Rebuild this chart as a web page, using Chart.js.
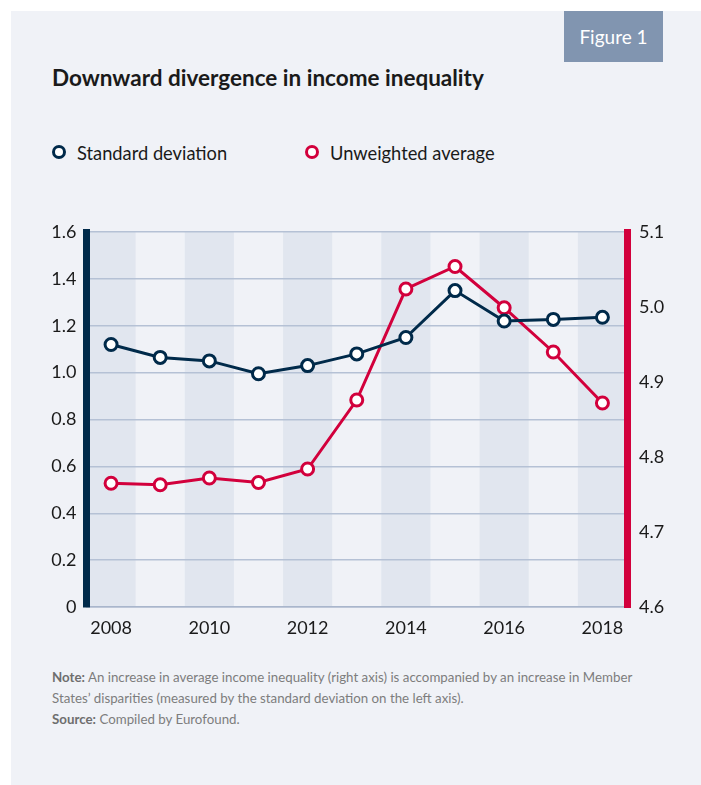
<!DOCTYPE html>
<html>
<head>
<meta charset="utf-8">
<title>Downward divergence in income inequality</title>
<script src="https://cdn.jsdelivr.net/npm/chart.js"></script>
<style>
  html, body { margin: 0; padding: 0; background: #fff; }
  body { width: 701px; height: 785px; position: relative; overflow: hidden;
         font-family: Lato, "Roboto", sans-serif; }
  .panel { position: absolute; left: 11px; top: 11px; width: 690px; height: 774px; background: #f0f2f7; }
  .tag { position: absolute; left: 564px; top: 11px; width: 99px; height: 51px; background: #8195b0;
         color: #fff; font-size: 19px; line-height: 51px; text-align: center; }
  .title { position: absolute; left: 52px; top: 64px; font-size: 22.5px; font-weight: bold; color: #1a1a1a;
           white-space: nowrap; }
  .legend { position: absolute; top: 141px; font-size: 18.3px; color: #1a1a1a; line-height: 24px; white-space: nowrap; }
  .legend span.dot { display: inline-block; width: 8px; height: 8px; border-radius: 50%;
                     border: 3.5px solid; background: #fff; vertical-align: 1px; margin-right: 11px; }
  .chart-box { position: absolute; left: 0; top: 200px; width: 701px; height: 460px; }
  .notes { position: absolute; left: 52px; top: 667px; font-size: 13.3px; line-height: 21px; color: #7d7d7d;
           white-space: nowrap; }
  .notes b { color: #6e6e6e; }
</style>
</head>
<body>
<div class="panel"></div>
<div class="tag">Figure 1</div>
<div class="title">Downward divergence in income inequality</div>
<div class="legend" style="left:52px"><span class="dot" style="border-color:#002a4a"></span>Standard deviation</div>
<div class="legend" style="left:305px"><span class="dot" style="border-color:#d2003c"></span>Unweighted average</div>

<div class="chart-box"><canvas id="chart" width="701" height="460"></canvas></div>

<div class="notes">
  <b>Note:</b> An increase in average income inequality (right axis) is accompanied by an increase in Member<br>
  States’ disparities (measured by the standard deviation on the left axis).<br>
  <b>Source:</b> Compiled by Eurofound.
</div>

<script>
const years = ['2008', '2009', '2010', '2011', '2012', '2013', '2014', '2015', '2016', '2017', '2018'];
const stdDev = [1.12, 1.065, 1.05, 0.995, 1.03, 1.08, 1.15, 1.35, 1.22, 1.227, 1.236];
const unweightedAvg = [4.765, 4.763, 4.772, 4.766, 4.784, 4.876, 5.024, 5.054, 4.999, 4.94, 4.872];
const leftTicks = [0, 0.2, 0.4, 0.6, 0.8, 1.0, 1.2, 1.4, 1.6];
const rightTicks = [4.6, 4.7, 4.8, 4.9, 5.0, 5.1];

const NAVY = '#002a4a';
const RED = '#d2003c';
const FONT = 'Lato, Roboto, sans-serif';

// shade every other year column
const bands = {
  id: 'bands',
  beforeDraw(chart) {
    const { ctx, chartArea, scales } = chart;
    const x = scales.x;
    const half = (x.getPixelForValue(1) - x.getPixelForValue(0)) / 2;
    ctx.save();
    ctx.fillStyle = '#e1e6ef';
    years.forEach((y, i) => {
      if (i % 2) return;
      const c = x.getPixelForValue(i);
      const l = Math.max(c - half, chartArea.left);
      const r = Math.min(c + half, chartArea.right);
      ctx.fillRect(l, chartArea.top, r - l, chartArea.bottom - chartArea.top);
    });
    ctx.restore();
  }
};

new Chart(document.getElementById('chart'), {
  type: 'line',
  data: {
    labels: years,
    datasets: [
      {
        label: 'Standard deviation', data: stdDev, yAxisID: 'y',
        borderColor: NAVY, borderWidth: 3, backgroundColor: '#fff',
        pointRadius: 6, pointBorderWidth: 3, pointBackgroundColor: '#fff', pointBorderColor: NAVY,
        tension: 0, order: 1,
      },
      {
        label: 'Unweighted average', data: unweightedAvg, yAxisID: 'y1',
        borderColor: RED, borderWidth: 3, backgroundColor: '#fff',
        pointRadius: 6, pointBorderWidth: 3, pointBackgroundColor: '#fff', pointBorderColor: RED,
        tension: 0, order: 2,
      },
    ]
  },
  options: {
    responsive: false,
    animation: false,
    layout: { padding: { top: 32, left: 0, right: 0, bottom: 0 } },
    plugins: { legend: { display: false }, tooltip: { enabled: false } },
    scales: {
      x: {
        offset: true,
        grid: { display: false, drawTicks: false },
        border: { display: true, color: '#a9b6cc', width: 1.5 },
        ticks: {
          autoSkip: false, maxRotation: 0, padding: 10,
          color: '#1a1a1a', font: { family: FONT, size: 18 },
          callback: (v, i) => (i % 2 ? '' : years[i])
        },
        afterFit: (s) => { s.height = 53; }
      },
      y: {
        position: 'left', min: 0, max: 1.6,
        afterBuildTicks: (s) => { s.ticks = leftTicks.map(v => ({ value: v })); },
        grid: { color: '#b5c1d5', lineWidth: 1.5, drawTicks: false },
        border: { color: NAVY, width: 7 },
        ticks: {
          padding: 10, color: '#1a1a1a', font: { family: FONT, size: 18 },
          callback: (v) => (v === 0 ? '0' : v.toFixed(1))
        },
        afterFit: (s) => { s.width = 86.5; }
      },
      y1: {
        position: 'right', min: 4.6, max: 5.1,
        afterBuildTicks: (s) => { s.ticks = rightTicks.map(v => ({ value: v })); },
        grid: { drawOnChartArea: false, drawTicks: false },
        border: { color: RED, width: 7 },
        ticks: {
          padding: 12, color: '#1a1a1a', font: { family: FONT, size: 18 },
          callback: (v) => v.toFixed(1)
        },
        afterFit: (s) => { s.width = 74; }
      }
    }
  },
  plugins: [bands]
});
</script>
</body>
</html>
